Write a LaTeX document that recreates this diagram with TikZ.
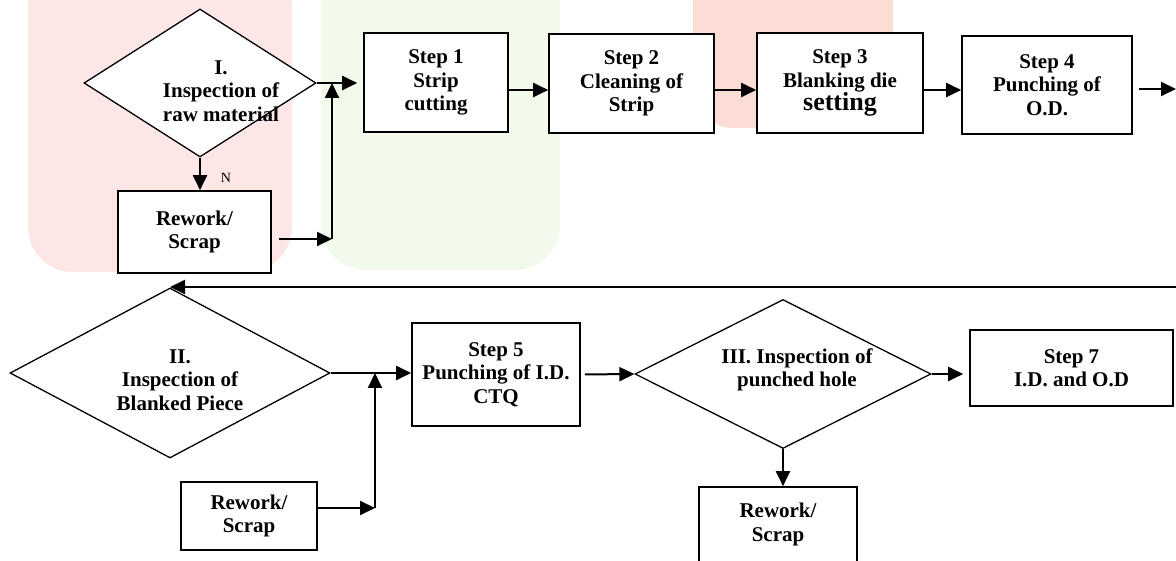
\documentclass[tikz,border=0pt]{standalone}
\usepackage{fontspec}
\setmainfont{Liberation Serif}
\usepackage{tikz}
\usetikzlibrary{shapes.geometric,arrows.meta,positioning}

\definecolor{wmpink}{HTML}{FDE6E6}
\definecolor{wmgreen}{HTML}{F2FAEC}
\definecolor{wmsalmon}{HTML}{FCDDD6}

\tikzset{
  stepbox/.style={draw,fill=white,line width=1.6pt,inner sep=0pt,align=center,
    font=\fontsize{21}{23.5}\selectfont\bfseries},
  decision/.style={diamond,draw,fill=white,line width=1.3pt,inner sep=0pt,aspect=1.6},
  dtext/.style={align=center,inner sep=0pt,font=\fontsize{21}{23.5}\selectfont\bfseries},
  flow/.style={line width=2pt,-{Triangle[length=15pt,width=14pt]}}
}

\begin{document}
\begin{tikzpicture}[x=1pt,y=-1pt]
  \useasboundingbox (0,0) rectangle (1176,561);
  \fill[wmpink,rounded corners=45pt] (28,-40) rectangle (292,272);
  \fill[wmgreen,rounded corners=45pt] (321,-40) rectangle (560,270);
  \fill[wmsalmon,rounded corners=40pt] (693,-40) rectangle (893,128);

  \node[decision,minimum width=232pt,minimum height=148pt,
    label={[dtext,xshift=21pt,yshift=-8pt]center:{I.\\Inspection of\\raw material}}] (insp1) at (200,83) {};
  \node[stepbox,minimum width=153pt,minimum height=82pt] (rw1) at (194.5,232) {Rework/\\Scrap};
  \node[stepbox,minimum width=144pt,minimum height=99pt] (s1) at (436,82.5) {Step 1\\Strip\\cutting};
  \node[stepbox,minimum width=165pt,minimum height=99pt] (s2) at (631.5,83.5) {Step 2\\Cleaning of\\Strip};
  \node[stepbox,minimum width=166pt,minimum height=100pt] (s3) at (840,83)
    {Step 3\\Blanking die\\{\fontsize{26}{24}\selectfont setting}};
  \node[stepbox,minimum width=170pt,minimum height=98pt] (s4) at (1047,85) {Step 4\\Punching of\\O.D.};
  \node[font=\fontsize{14}{14}\selectfont] (nlab) at (226,178) {N};

  \node[decision,minimum width=320pt,minimum height=170pt,
    label={[dtext,xshift=10pt,yshift=-7pt]center:{II.\\Inspection of\\Blanked Piece}}] (insp2) at (170,373) {};
  \node[stepbox,minimum width=136pt,minimum height=68pt] (rw2) at (249,516) {Rework/\\Scrap};
  \node[stepbox,minimum width=168pt,minimum height=103pt] (s5) at (496,374.5) {Step 5\\Punching of I.D.\\CTQ};
  \node[decision,minimum width=296pt,minimum height=149pt,
    label={[dtext,xshift=14pt,yshift=4pt]center:{III. Inspection of\\punched hole}}] (insp3) at (783,374) {};
  \node[stepbox,minimum width=158pt,minimum height=75pt] (rw3) at (778,524.5) {Rework/\\Scrap};
  \node[stepbox,minimum width=203pt,minimum height=76pt] (s7) at (1071.5,368) {Step 7\\I.D. and O.D};

  \coordinate (row1) at (0,90);
  \coordinate (j1) at (332,239);
  \coordinate (j2) at (375,508);
  \coordinate (out1) at (1176,89);
  \coordinate (back) at (1180,287);

  \draw[flow,shorten >=6pt] (insp1.east) -- (insp1.east -| s1.west);
  \draw[flow] (insp1.south) -- (insp1.south |- rw1.north);
  \draw[flow,shorten <=7pt] (rw1.east |- j1) -- (j1);
  \draw[flow] (j1) -- (j1 |- insp1.east);
  \draw[flow] (s1.east |- row1) -- (s2.west |- row1);
  \draw[flow] (s2.east |- row1) -- (s3.west |- row1);
  \draw[flow] (s3.east |- row1) -- (s4.west |- row1);
  \draw[flow,shorten <=6pt] (s4.east |- out1) -- (out1);
  \draw[flow] (back) -- (back -| insp2.north);
  \draw[flow] (insp2.east) -- (insp2.east -| s5.west);
  \draw[flow] (rw2.east |- j2) -- (j2);
  \draw[flow] (j2) -- (j2 |- insp2.east);
  \draw[flow,shorten <=4pt] (s5.east) -- (insp3.west);
  \draw[flow] (insp3.south) -- (insp3.south |- rw3.north);
  \draw[flow,shorten >=6pt] (insp3.east) -- (insp3.east -| s7.west);
\end{tikzpicture}
\end{document}
